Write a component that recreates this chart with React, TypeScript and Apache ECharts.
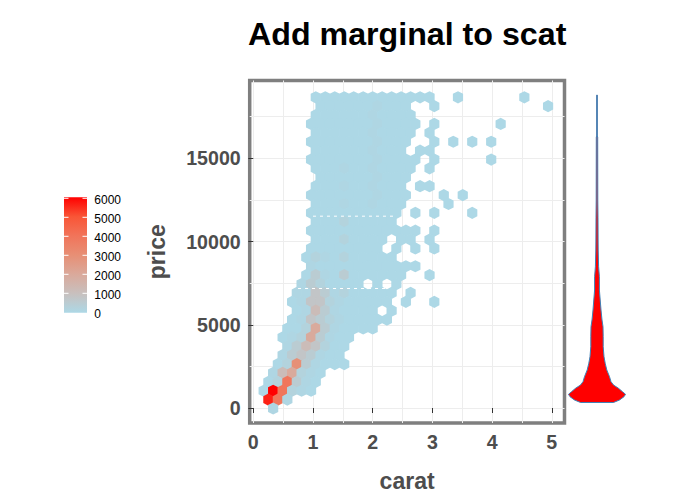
import React, { useEffect, useRef } from "react";
import * as echarts from "echarts";

const FONT = "Liberation Sans";

// Hexagon bins. One string per row of bins, top row first.
// "." = empty bin; each letter is a count level (see levelCounts).
const hexGrid = [
  "......aaaaaaaaaaaaa..a......a",
  ".......aaaaaabaaa..a...........a",
  "......aaaaaabaaaa",
  "......aaaaaaabaaaa.a......a",
  "......aaaaaabaaaa.a",
  "......aaaaaaabaaa..a.a.a.a",
  "......aaaaaabaaa.aa",
  "......aaaaaaabaaaa.a.....a",
  "......aaabaabaaaa.a",
  ".......aaaaaabaaa",
  "......aaabaabaaa.aa",
  "......aaaaaaabaaa...a.a",
  "......aaabaabaaa....a",
  "......aaaaaaaaaa.a.a...a",
  "......aaacaaaaa",
  "......aaaaaaaaaaaa.a",
  "......aaacaaaa.aa.a",
  "......aaaaaaaa.a.a.a",
  ".....acbacaaaaa",
  "......baaaaaaaaaaa",
  ".....adbadaaaaaa..a",
  ".....bdcaaaa.a.a",
  "....bbedbcaaaaa.a",
  "....abeecbaaaaa.a..a",
  "....abfdbaaaa.a",
  "....abedcbaaaaa",
  "...aacgdbaaaa",
  "...abcgdbaa",
  "...bdfecaa",
  "...bdedbaa",
  "..acidbaaa",
  "..bfgcba",
  ".acjdba",
  ".amjcba",
  ".ljb",
  "..b",
];
const levelCounts: Record<string, number> = {
  a: 10, b: 70, c: 220, d: 500, e: 800, f: 1200, g: 2000,
  h: 2500, i: 3000, j: 4000, k: 5000, l: 5700, m: 6100,
};
// bin lattice (carat, price)
const firstRowPrice = 18667;
const rowStepPrice = 534.2;
const evenRowFirstCarat = 0.094;
const oddRowFirstCarat = 0.015;
const colStepCarat = 0.1588;

// ridges in the hexagon layer: [carat from, carat to, price]
const seams = [
  [1.0, 2.39, 11525],
  [0.75, 2.25, 7180],
];

// marginal violin of price
const violinPrice = [350, 498, 696, 840, 996, 1200, 1399, 1597, 1897, 2299, 2701, 3097, 3697, 4298, 4898, 5300, 5900, 6501, 7101, 7899, 8499, 9502, 10102, 11428, 12500, 16285, 16345, 18800];
const violinDensity = [16.5, 22.5, 27, 28.5, 25.5, 21.5, 16.5, 14, 12.5, 9.8, 8.2, 7, 6.2, 6.2, 6, 5, 4, 3.2, 2.4, 2.4, 1.6, 1.2, 1.1, 1, 0.8, 0.7, 0.35, 0.35];

const xMajor = [0, 1, 2, 3, 4, 5];
const xGrid = [0, 0.5, 1, 1.5, 2, 2.5, 3, 3.5, 4, 4.5, 5];
const yMajor = [0, 5000, 10000, 15000];
const yGrid = [0, 2500, 5000, 7500, 10000, 12500, 15000, 17500];

const legendTicks = [0, 1000, 2000, 3000, 4000, 5000, 6000];
const rampColors = ["#ADD8E6", "#C8C0BE", "#DAA99B", "#E78F75", "#F1745A", "#F95536", "#FF0000"];

const xRange = { min: -0.06, max: 5.213 };
const yRange = { min: -900, max: 19676 };

function buildHexData() {
  const out: number[][] = [];
  hexGrid.forEach((row, r) => {
    const first = r % 2 === 0 ? evenRowFirstCarat : oddRowFirstCarat;
    row.split("").forEach((ch, c) => {
      if (ch === ".") return;
      out.push([first + c * colStepCarat, firstRowPrice - r * rowStepPrice, levelCounts[ch]]);
    });
  });
  return out;
}

const HEX = "path://M0 -5.7 L4.75 -3.2 L4.75 3.2 L0 5.7 L-4.75 3.2 L-4.75 -3.2 Z";

export default function App() {
  const ref = useRef<HTMLDivElement>(null);
  useEffect(() => {
    const chart = echarts.init(ref.current!, null, { renderer: "svg" });
    const axisText = { color: "#4D4D4D", fontFamily: FONT, fontWeight: "bold" as const, fontSize: 19.6 };
    const nameText = { color: "#4D4D4D", fontFamily: FONT, fontWeight: "bold" as const, fontSize: 23 };
    const gridLine = { show: true, lineStyle: { color: "#EDEDED", width: 1 } };
    const legPerUnit = 114 / 6000;
    const legY = (v: number) => 312.3 - v * legPerUnit;
    const graphics: any[] = [
      {
        type: "rect",
        shape: { x: 64, y: 197.3, width: 23, height: 115.4 },
        style: {
          fill: new echarts.graphic.LinearGradient(0, 1, 0, 0, rampColors.map((color, i) => ({ offset: i / (rampColors.length - 1), color }))),
        },
      },
    ];
    legendTicks.forEach((v) => {
      if (v > 0) {
        graphics.push({ type: "line", shape: { x1: 64, y1: legY(v), x2: 68.5, y2: legY(v) }, style: { stroke: "#FFFFFF", lineWidth: 1 } });
        graphics.push({ type: "line", shape: { x1: 82.5, y1: legY(v), x2: 87, y2: legY(v) }, style: { stroke: "#FFFFFF", lineWidth: 1 } });
      }
      graphics.push({
        type: "text",
        x: 94.3,
        y: legY(v) + 1.8,
        style: { text: String(v), fill: "#000000", font: `12px "${FONT}"`, verticalAlign: "middle" },
      });
    });

    chart.setOption({
      animation: false,
      backgroundColor: "#FFFFFF",
      title: {
        text: "Add marginal to scat",
        left: 243,
        top: 12.5,
        textStyle: { fontFamily: FONT, fontWeight: "bold", fontSize: 32.2, color: "#000000" },
      },
      grid: [
        { left: 249.7, top: 80.5, width: 314.8, height: 342.8, show: true, borderColor: "#7F7F7F", borderWidth: 3.5, backgroundColor: "#FFFFFF" },
        { left: 565, top: 80.5, width: 64, height: 342.8 },
      ],
      xAxis: [
        {
          type: "value", gridIndex: 0, ...xRange, axisLine: { show: false },
          axisTick: { show: false, customValues: xGrid }, axisLabel: { show: false, customValues: xGrid }, splitLine: gridLine,
        },
        {
          type: "value", gridIndex: 0, position: "bottom", ...xRange, axisLine: { show: false }, splitLine: { show: false },
          axisTick: { show: true, length: 5, customValues: xMajor, lineStyle: { color: "#333333", width: 1 } },
          axisLabel: { show: true, customValues: xMajor, margin: 9, formatter: (v: number) => String(v), ...axisText },
          name: "carat", nameLocation: "middle", nameGap: 46, nameTextStyle: nameText,
        },
        { type: "value", gridIndex: 1, min: -32, max: 32, show: false },
      ],
      yAxis: [
        {
          type: "value", gridIndex: 0, ...yRange, axisLine: { show: false },
          axisTick: { show: false, customValues: yGrid }, axisLabel: { show: false, customValues: yGrid }, splitLine: gridLine,
        },
        {
          type: "value", gridIndex: 0, position: "left", ...yRange, axisLine: { show: false }, splitLine: { show: false },
          axisTick: { show: true, length: 5, customValues: yMajor, lineStyle: { color: "#333333", width: 1 } },
          axisLabel: { show: true, customValues: yMajor, margin: 9, formatter: (v: number) => String(v), ...axisText },
          name: "price", nameLocation: "middle", nameGap: 81, nameTextStyle: nameText,
        },
        { type: "value", gridIndex: 1, ...yRange, show: false },
      ],
      visualMap: { show: false, type: "continuous", seriesIndex: 0, dimension: 2, min: 0, max: 6100, inRange: { color: rampColors } },
      series: [
        {
          type: "scatter", xAxisIndex: 0, yAxisIndex: 0, data: buildHexData(),
          symbol: HEX, symbolSize: [10.2, 12.2], symbolKeepAspect: false, silent: true, z: 2,
          itemStyle: { opacity: 1 },
        },
        ...seams.map(([a, b, p]) => ({
          type: "line", xAxisIndex: 0, yAxisIndex: 0, data: [[a, p], [b, p]], symbol: "none", z: 3, silent: true,
          lineStyle: { color: "#FFFFFF", width: 1, type: [3, 4] },
        })),
        {
          type: "custom", xAxisIndex: 2, yAxisIndex: 2, data: [[0, 0]], silent: true, z: 2, clip: false,
          renderItem: (_: any, api: any) => {
            const right = violinPrice.map((p, i) => api.coord([violinDensity[i], p]));
            const left = violinPrice.map((p, i) => api.coord([-violinDensity[i], p])).reverse();
            return { type: "polygon", shape: { points: [...right, ...left] }, style: { fill: "#FF0000", stroke: "#3E82B8", lineWidth: 1 } };
          },
        },
      ],
      graphic: graphics,
    });
    return () => chart.dispose();
  }, []);
  return <div ref={ref} style={{ position: "absolute", left: 0, top: 0, width: 676, height: 497 }} />;
}
